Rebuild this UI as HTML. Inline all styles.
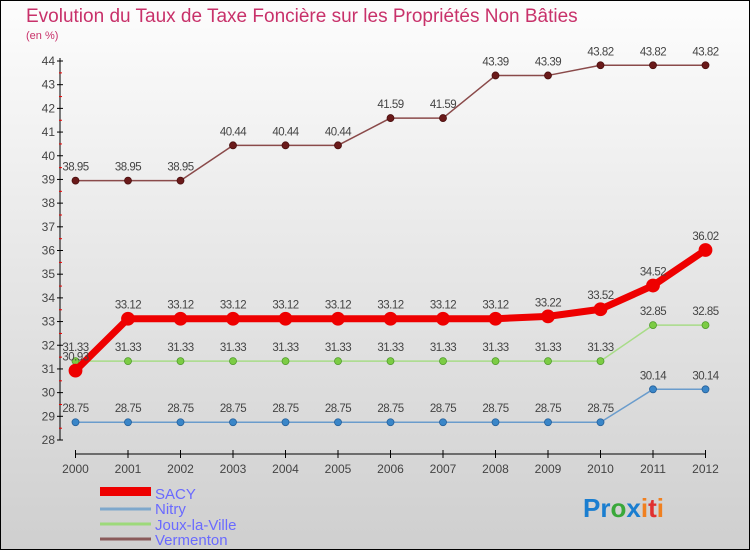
<!DOCTYPE html>
<html><head><meta charset="utf-8"><style>
body{margin:0;width:750px;height:550px;overflow:hidden;font-family:"Liberation Sans",sans-serif}
</style></head><body>
<svg width="750" height="550" xmlns="http://www.w3.org/2000/svg" font-family="Liberation Sans, sans-serif">
<defs><linearGradient id="bg" x1="0" y1="0" x2="0" y2="1"><stop offset="0" stop-color="#fdfdfd"/><stop offset="1" stop-color="#cfcfcf"/></linearGradient></defs>
<rect x="0.5" y="0.5" width="749" height="549" fill="url(#bg)" stroke="#000"/>
<text x="26" y="22" font-size="19" fill="#c8316a">Evolution du Taux de Taxe Foncière sur les Propriétés Non Bâties</text>
<text x="26" y="39" font-size="11" fill="#c8316a">(en %)</text>
<g id="axes"></g><g id="series"></g>
<g>
<rect x="100" y="487" width="51" height="9" fill="#e00"/>
<line x1="100" y1="509" x2="151" y2="509" stroke="#7fa8cc" stroke-width="3"/>
<line x1="100" y1="524" x2="151" y2="524" stroke="#9dd97a" stroke-width="3"/>
<line x1="100" y1="539" x2="151" y2="539" stroke="#8a5a5a" stroke-width="3"/>
<g font-size="15" fill="#6a6aff">
<text x="155" y="499">SACY</text>
<text x="155" y="514">Nitry</text>
<text x="155" y="530">Joux-la-Ville</text>
<text x="155" y="545">Vermenton</text>
</g></g>
<text x="583" y="517" font-size="26" font-weight="bold"><tspan fill="#1a7ed0">Pr</tspan><tspan fill="#3aa83a">o</tspan><tspan fill="#1a7ed0">x</tspan><tspan fill="#f08020">i</tspan><tspan fill="#e03030">t</tspan><tspan fill="#f08020">i</tspan></text>
</svg>
<script>
const years=[2000,2001,2002,2003,2004,2005,2006,2007,2008,2009,2010,2011,2012];
const yTicks=[28,29,30,31,32,33,34,35,36,37,38,39,40,41,42,43,44];
const sacy=[30.93,33.12,33.12,33.12,33.12,33.12,33.12,33.12,33.12,33.22,33.52,34.52,36.02];
const nitry=[28.75,28.75,28.75,28.75,28.75,28.75,28.75,28.75,28.75,28.75,28.75,30.14,30.14];
const joux=[31.33,31.33,31.33,31.33,31.33,31.33,31.33,31.33,31.33,31.33,31.33,32.85,32.85];
const vermenton=[38.95,38.95,38.95,40.44,40.44,40.44,41.59,41.59,43.39,43.39,43.82,43.82,43.82];
const NS="http://www.w3.org/2000/svg";
const xs=i=>75.5+i*(705.5-75.5)/(years.length-1);
const ys=v=>440-(v-28)*(440-61)/16;
function mk(t,a,p){const e=document.createElementNS(NS,t);for(const k in a)e.setAttribute(k,a[k]);p.appendChild(e);return e;}
const ax=document.getElementById('axes');
mk('line',{x1:60,y1:58,x2:60,y2:440,stroke:'#000'},ax);
yTicks.forEach((v,k)=>{const y=ys(v);
 mk('line',{x1:57,y1:y,x2:63,y2:y,stroke:'#000'},ax);
 if(k<yTicks.length-1) mk('line',{x1:59,y1:y-11.8,x2:62,y2:y-11.8,stroke:'#e00'},ax);
 const t=mk('text',{x:55,y:y+4,'font-size':12,fill:'#444','text-anchor':'end'},ax);
 
 
 t.textContent=v;});
mk('line',{x1:75.5,y1:454,x2:705.5,y2:454,stroke:'#000'},ax);
years.forEach((yr,i)=>{const x=xs(i);
 mk('line',{x1:x,y1:450,x2:x,y2:458,stroke:'#000'},ax);
 const t=mk('text',{x:x,y:473,'font-size':12,fill:'#444','text-anchor':'middle'},ax);
 
 
 t.textContent=yr;});
const sg=document.getElementById('series');
function series(name,data,color,lw,r,dot,dotStroke){
 const g=mk('g',{},sg);
 
 
 mk('polyline',{points:data.map((v,i)=>xs(i)+','+ys(v)).join(' '),fill:'none',stroke:color,'stroke-width':lw,'stroke-linejoin':'round'},g);
 data.forEach((v,i)=>{
  const c=mk('circle',{cx:xs(i),cy:ys(v),r:r,fill:dot,stroke:dotStroke,'stroke-width':0.8},g);
  
  
  const t=mk('text',{x:xs(i),y:ys(v)-10,'font-size':11.5,fill:'#444','text-anchor':'middle','letter-spacing':'-0.5'},g);
  
  
  t.textContent=v;});
}
series('series-nitry',nitry,'#6a9ccc',1.5,3.5,'#3a86c8','#25609a');
series('series-joux',joux,'#a8dc88',1.5,3.5,'#7ccc44','#4e9a2a');
series('series-vermenton',vermenton,'#8a4a4a',1.5,3.5,'#6a1a1a','#4a0e0e');
series('series-sacy',sacy,'#ee0000',7,6.5,'#ee0000','#ee0000');
</script>
</body></html>
